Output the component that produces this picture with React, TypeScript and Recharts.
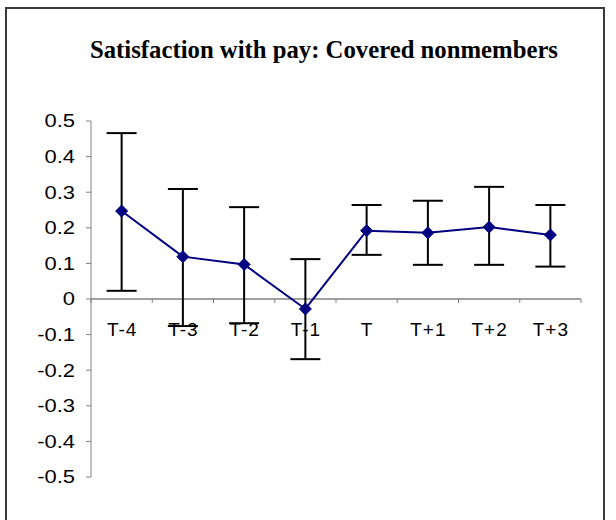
import React from 'react';
import {
  ComposedChart,
  Line,
  XAxis,
  YAxis,
  ErrorBar,
  ReferenceLine,
} from 'recharts';

/**
 * Satisfaction with pay: Covered nonmembers
 * Excel-style line chart with error bars, x axis crossing at zero
 */

const periods = ['T-4', 'T-3', 'T-2', 'T-1', 'T', 'T+1', 'T+2', 'T+3'];
const estimates = [0.247, 0.119, 0.097, -0.028, 0.192, 0.186, 0.202, 0.18];
const lowerBounds = [0.023, -0.076, -0.068, -0.169, 0.124, 0.096, 0.096, 0.091];
const upperBounds = [0.466, 0.309, 0.258, 0.112, 0.264, 0.276, 0.315, 0.264];
const yTicks = [-0.5, -0.4, -0.3, -0.2, -0.1, 0, 0.1, 0.2, 0.3, 0.4, 0.5];

const W = 616;
const H = 520;
const MARGIN = { top: 121, right: 35, bottom: 13, left: 31 };
const Y_AXIS_W = 60;
const X_AXIS_H = 30;
const PLOT_W = W - MARGIN.left - MARGIN.right - Y_AXIS_W;
const PLOT_H = H - MARGIN.top - MARGIN.bottom - X_AXIS_H;
const ZERO_Y = MARGIN.top + PLOT_H / 2;
const BAND = PLOT_W / periods.length;

const AXIS_GREY = '#808080';
const NAVY = '#000080';
const SANS = '"Liberation Sans", Arial, sans-serif';

const data = periods.map((label, i) => ({
  label,
  value: estimates[i],
  err: [estimates[i] - lowerBounds[i], upperBounds[i] - estimates[i]],
}));

// Excel puts category labels under the zero line, ticks between categories
function PeriodTick(props: any) {
  const { x, payload, index } = props;
  return (
    <g>
      {index === 0 && (
        <line x1={x - BAND / 2} y1={ZERO_Y} x2={x - BAND / 2} y2={ZERO_Y + 4} stroke={AXIS_GREY} />
      )}
      <line x1={x + BAND / 2} y1={ZERO_Y} x2={x + BAND / 2} y2={ZERO_Y + 4} stroke={AXIS_GREY} />
      <text
        x={x + 0.5}
        y={ZERO_Y + 37}
        textAnchor="middle"
        fill="#000"
        stroke="none"
        fontFamily={SANS}
        fontSize={19}
        letterSpacing={1}
      >
        {payload.value}
      </text>
    </g>
  );
}

// the old chart's digits are wide, so stretch them a little
function ValueTick(props: any) {
  const { x, y, payload } = props;
  const v = payload.value as number;
  return (
    <text
      transform={`translate(${x},${y}) scale(1.22,1)`}
      textAnchor="end"
      dy="0.36em"
      fill="#000"
      stroke="none"
      fontFamily={SANS}
      fontSize={18}
    >
      {v === 0 ? '0' : v.toFixed(1)}
    </text>
  );
}

function Diamond(props: any) {
  const { cx, cy } = props;
  if (cx == null || cy == null) return null;
  const r = 6;
  return (
    <polygon
      points={`${cx},${cy - r} ${cx + r},${cy} ${cx},${cy + r} ${cx - r},${cy}`}
      fill={NAVY}
      stroke={NAVY}
    />
  );
}

export default function App() {
  return (
    <div
      style={{
        position: 'absolute',
        left: 0,
        top: 0,
        width: W,
        height: H,
        overflow: 'hidden',
        background: '#fff',
      }}
    >
      {/* chart frame, bottom edge falls outside the picture */}
      <div
        style={{
          position: 'absolute',
          left: 5,
          top: 7,
          width: 600,
          height: 540,
          boxSizing: 'border-box',
          border: '2px solid #3a3a3a',
        }}
      />
      <svg width={W} height={90} style={{ position: 'absolute', left: 0, top: 0 }}>
        <text
          x={324}
          y={58}
          textAnchor="middle"
          textLength={468}
          lengthAdjust="spacingAndGlyphs"
          fontFamily='"Liberation Serif", "Times New Roman", serif'
          fontWeight="bold"
          fontSize={25}
          fill="#000"
        >
          Satisfaction with pay: Covered nonmembers
        </text>
      </svg>
      <div style={{ position: 'absolute', left: 0, top: 0 }}>
        <ComposedChart width={W} height={H} data={data} margin={MARGIN}>
          <ReferenceLine y={0} stroke={AXIS_GREY} strokeWidth={1.5} />
          <XAxis
            dataKey="label"
            scale="band"
            height={X_AXIS_H}
            axisLine={false}
            tickLine={false}
            interval={0}
            tick={<PeriodTick />}
          />
          <YAxis
            width={Y_AXIS_W}
            domain={[-0.5, 0.5]}
            ticks={yTicks}
            interval={0}
            stroke={AXIS_GREY}
            tickSize={5}
            tickMargin={11}
            tick={<ValueTick />}
          />
          <Line
            type="linear"
            dataKey="value"
            stroke={NAVY}
            strokeWidth={2}
            dot={<Diamond />}
            activeDot={false}
            isAnimationActive={false}
          >
            <ErrorBar
              dataKey="err"
              direction="y"
              width={15}
              stroke="#000"
              strokeWidth={2}
              isAnimationActive={false}
            />
          </Line>
        </ComposedChart>
      </div>
    </div>
  );
}
